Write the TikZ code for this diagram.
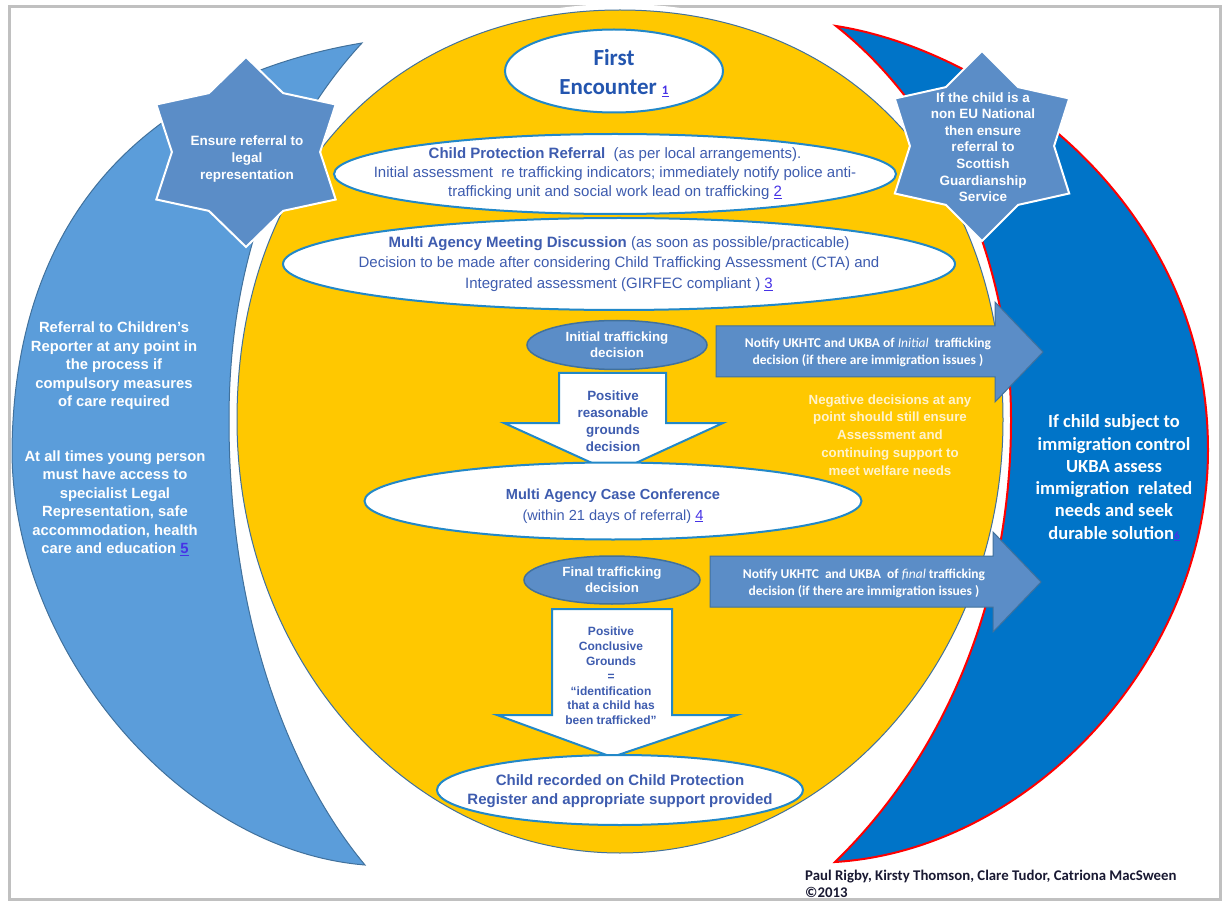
\documentclass[tikz,border=0pt]{standalone}
\usepackage{fontspec}
\setmainfont{Liberation Sans}
\newfontfamily\calibri{Carlito}
\usetikzlibrary{shapes.geometric}

\definecolor{gold}{RGB}{255,200,0}
\definecolor{skyblue}{RGB}{91,157,218}
\definecolor{deepblue}{RGB}{0,116,200}
\definecolor{steel}{RGB}{91,141,199}
\definecolor{steelline}{RGB}{65,113,156}
\definecolor{ovalline}{RGB}{34,136,200}
\definecolor{inkblue}{RGB}{62,92,175}
\definecolor{titleblue}{RGB}{35,85,175}
\definecolor{linkblue}{RGB}{70,50,230}
\definecolor{palecream}{RGB}{255,243,205}
\definecolor{framegray}{RGB}{192,192,192}

\newcommand{\lnk}[1]{\textcolor{linkblue}{\underline{#1}}}

\begin{document}
\begin{tikzpicture}[x=1pt,y=-1pt]
  \tikzset{oval/.style = {shape=ellipse,draw=ovalline,line width=2pt,fill=white,inner sep=0pt}}
  \tikzset{ovaltext/.style = {align=center,text=inkblue,inner sep=0pt,font=\fontsize{15}{19}\selectfont}}
  \tikzset{pill/.style = {shape=ellipse,draw=steelline,line width=1.5pt,fill=steel,inner sep=0pt,align=center,text=white,font=\fontsize{13.3}{16.2}\selectfont\bfseries}}
  \tikzset{starfill/.style = {draw=white,line width=2pt,fill=steel,line join=miter}}
  \tikzset{startext/.style = {align=center,text=white,inner sep=0pt,font=\fontsize{13.5}{16.6}\selectfont\bfseries}}
  \tikzset{downarrow/.style = {draw=ovalline,line width=2pt,fill=white,line join=miter}}
  \tikzset{notearrow/.style = {draw=steelline,line width=1pt,fill=steel}}
  \tikzset{arrowtext/.style = {align=center,text=inkblue,inner sep=0pt,font=\fontsize{13.4}{17}\selectfont\bfseries}}
  \tikzset{notetext/.style = {align=center,text=white,inner sep=0pt,font=\calibri\fontsize{13.5}{17}\selectfont\bfseries}}
  \tikzset{sidetext/.style = {align=center,text=white,inner sep=0pt,font=\fontsize{14.8}{18.5}\selectfont\bfseries}}

  \useasboundingbox (0,0) rectangle (1224,901);
  \draw[framegray,line width=3pt] (9,7) rectangle (1220,899);

  % side crescents
  \draw[fill=skyblue,draw=steelline,line width=1pt] (362,43) .. controls (200,70) and (15,170) .. (12,450)
    .. controls (12,650) and (180,850) .. (365,865) .. controls (290,775) and (229,620) .. (229,420)
    .. controls (229,230) and (300,110) .. (362,43) -- cycle;
  \draw[fill=deepblue,draw=red,line width=2pt] (836,26) .. controls (990,50) and (1208,200) .. (1208,450)
    .. controls (1208,660) and (1030,850) .. (835,862) .. controls (930,770) and (1011,620) .. (1011,420)
    .. controls (1011,240) and (930,100) .. (836,26) -- cycle;

  % central disc
  \draw[fill=gold,draw=steelline,line width=1pt,preaction={draw=white,line width=12pt}]
    (620,10) .. controls (393,10) and (237,174) .. (237,420) .. controls (237,660) and (409,853) .. (620,853)
    .. controls (831,853) and (1003,660) .. (1003,420) .. controls (1003,174) and (847,10) .. (620,10) -- cycle;

  % stars
  \begin{scope}[shift={(246,152)},xscale=1.09]
    \draw[starfill] (90:95) \foreach \a/\r in {120/68,150/95,180/68,210/95,240/68,270/95,300/68,330/95,0/68,30/95,60/68} {-- (\a:\r)} -- cycle;
  \end{scope}
  \node[startext] (legaltext) at (247,159) {Ensure referral to\\legal\\representation};
  \begin{scope}[shift={(982,146)},xscale=1.06]
    \draw[starfill] (90:95) \foreach \a/\r in {120/68,150/95,180/68,210/95,240/68,270/95,300/68,330/95,0/68,30/95,60/68} {-- (\a:\r)} -- cycle;
  \end{scope}
  \node[startext] (guardtext) at (983,147) {If the child is a\\non EU National\\then ensure\\referral to\\Scottish\\Guardianship\\Service};

  % ovals
  \node[oval,minimum width=218pt,minimum height=83pt] (first) at (614,71) {};
  \node[align=center,text=titleblue,inner sep=0pt,font=\calibri\fontsize{23}{29}\selectfont\bfseries] (firsttext) at (614,73) {First\\Encounter {\fontsize{13}{13}\selectfont\lnk{1}}};

  \node[oval,minimum width=562pt,minimum height=80pt] (referral) at (615,174) {};
  \node[ovaltext] (referraltext) at (615,174) {\textbf{Child Protection Referral}\ \ (as per local arrangements).\\Initial assessment\ \ re trafficking indicators; immediately notify police anti-\\trafficking unit and social work lead on trafficking \lnk{2}};

  \node[oval,minimum width=672pt,minimum height=92pt] (meeting) at (619,264) {};
  \node[ovaltext,font=\fontsize{15}{20.5}\selectfont] (meetingtext) at (619,264) {\textbf{Multi Agency Meeting Discussion} (as soon as possible/practicable)\\Decision to be made after considering Child Trafficking Assessment (CTA) and\\Integrated assessment (GIRFEC compliant ) \lnk{3}};

  \node[pill,minimum width=180pt,minimum height=49pt] (initial) at (617,345) {Initial trafficking\\decision};

  % down arrow 1
  \draw[downarrow] (559,373) -- (666,373) -- (666,423) -- (723,423) -- (614,473) -- (504,423) -- (559,423) -- cycle;
  \node[arrowtext] (reasonable) at (613,421) {Positive\\reasonable\\grounds\\decision};

  % notify arrows
  \foreach \xa/\ya/\xb in {716/352/995, 710/582/993}
    \draw[notearrow] (\xa,\ya-26) -- (\xb,\ya-26) -- (\xb,\ya-50) -- (\xb+48,\ya) -- (\xb,\ya+50) -- (\xb,\ya+25) -- (\xa,\ya+25) -- cycle;
  \node[notetext] (notifyinit) at (868,352) {Notify UKHTC and UKBA of {\mdseries\itshape Initial}\ \ trafficking\\decision (if there are immigration issues )};
  \node[notetext] (notifyfinal) at (864,583) {Notify UKHTC\ \ and UKBA\ \ of {\mdseries\itshape final} trafficking\\decision (if there are immigration issues )};

  \node[align=center,text=palecream,inner sep=0pt,font=\fontsize{13.3}{17.8}\selectfont\bfseries] (negative) at (890,435) {Negative decisions at any\\point should still ensure\\Assessment and\\continuing support to\\meet welfare needs};

  \node[oval,minimum width=497pt,minimum height=77pt] (conference) at (613,501) {};
  \node[ovaltext,font=\fontsize{14.6}{21}\selectfont] (conftext) at (613,506) {\textbf{Multi Agency Case Conference}\\(within 21 days of referral) \lnk{4}};

  \node[pill,minimum width=176pt,minimum height=48pt] (final) at (612,580) {Final trafficking\\decision};

  % down arrow 2
  \draw[downarrow] (552,609) -- (672,609) -- (672,715) -- (737,715) -- (612,757) -- (497,715) -- (552,715) -- cycle;
  \node[arrowtext,font=\fontsize{12}{14.8}\selectfont\bfseries] (conclusive) at (611,676) {Positive\\Conclusive\\Grounds\\=\\``identification\\that a child has\\been trafficked''};

  \node[oval,minimum width=366pt,minimum height=70pt] (recorded) at (620,790) {};
  \node[ovaltext,font=\fontsize{15}{18.5}\selectfont\bfseries] (recordedtext) at (620,791) {Child recorded on Child Protection\\Register and appropriate support provided};

  % side texts
  \node[sidetext] (reporter) at (114,366) {Referral to Children's\\Reporter at any point in\\the process if\\compulsory measures\\of care required};
  \node[sidetext] (access) at (115,503) {At all times young person\\must have access to\\specialist Legal\\Representation, safe\\accommodation, health\\care and education \lnk{5}};
  \node[align=center,text=white,inner sep=0pt,font=\calibri\fontsize{18.5}{22.3}\selectfont\bfseries] (immigration) at (1114,478) {If child subject to\\immigration control\\UKBA assess\\immigration\ \ related\\needs and seek\\durable solution{\fontsize{11}{11}\selectfont\lnk{6}}};

  \node[anchor=west,align=left,text={rgb,255:red,25;green,25;blue,50},inner sep=0pt,font=\calibri\fontsize{14.8}{17.5}\selectfont\bfseries] (authors) at (805,884) {Paul Rigby, Kirsty Thomson, Clare Tudor, Catriona MacSween\\©2013};
\end{tikzpicture}
\end{document}
